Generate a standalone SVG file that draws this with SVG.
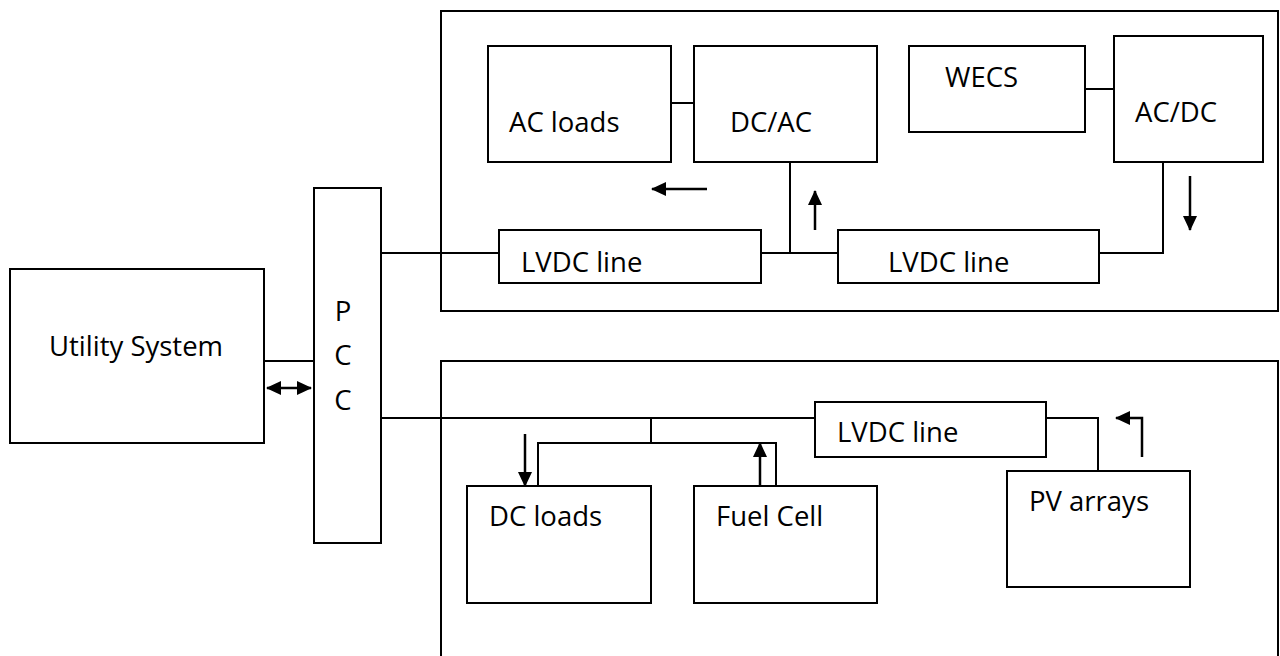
<svg xmlns="http://www.w3.org/2000/svg" width="1280" height="656" viewBox="0 0 1280 656">
<style>
.box{fill:#fff;stroke:#000;stroke-width:2}
.ln{fill:none;stroke:#000;stroke-width:2}
.ar{fill:none;stroke:#000;stroke-width:2.5}
text{font-family:"Open Sans","Noto Sans",sans-serif;font-size:27.5px;fill:#000}
</style>
<defs>
<marker id="ah" markerUnits="userSpaceOnUse" markerWidth="16" markerHeight="14" refX="14" refY="7" orient="auto-start-reverse">
<path d="M0,0 L15,7 L0,14 Z" fill="#000"/>
</marker>
</defs>
<rect width="1280" height="656" fill="#fff"/>
<g id="containers">
<rect class="box" x="441" y="11" width="837" height="300"/>
<rect class="box" x="441" y="361" width="837" height="310"/>
</g>
<g id="connectors">
<line class="ln" x1="264" y1="361" x2="314" y2="361"/>
<line class="ar" x1="267" y1="388" x2="311" y2="388" marker-start="url(#ah)" marker-end="url(#ah)"/>
<polyline class="ln" points="381,253 499,253"/>
<polyline class="ln" points="761,253 838,253"/>
<polyline class="ln" points="790,253 790,162"/>
<polyline class="ln" points="1099,253 1163,253 1163,162"/>
<line class="ln" x1="671" y1="103" x2="694" y2="103"/>
<line class="ln" x1="1085" y1="89" x2="1114" y2="89"/>
<line class="ar" x1="707" y1="189" x2="652" y2="189" marker-end="url(#ah)"/>
<line class="ar" x1="815" y1="230" x2="815" y2="191" marker-end="url(#ah)"/>
<line class="ar" x1="1190" y1="176" x2="1190" y2="230" marker-end="url(#ah)"/>
<polyline class="ln" points="381,418 815,418"/>
<polyline class="ln" points="651,418 651,443"/>
<polyline class="ln" points="538,486 538,443 776,443 776,486"/>
<line class="ar" x1="525" y1="434" x2="525" y2="486" marker-end="url(#ah)"/>
<line class="ar" x1="760" y1="486" x2="760" y2="443" marker-end="url(#ah)"/>
<polyline class="ln" points="1046,418 1098,418 1098,471"/>
<polyline class="ar" points="1142,457 1142,418 1116,418" marker-end="url(#ah)"/>
</g>
<g id="utility"><rect class="box" x="10" y="269" width="254" height="174"/><text x="49" y="356">Utility System</text></g>
<g id="pcc"><rect class="box" x="314" y="188" width="67" height="355"/>
<text x="343" y="321" text-anchor="middle">P</text>
<text x="343" y="365" text-anchor="middle">C</text>
<text x="343" y="410" text-anchor="middle">C</text></g>
<g id="ac-loads"><rect class="box" x="488" y="46" width="183" height="116"/><text x="509" y="132">AC loads</text></g>
<g id="dc-ac"><rect class="box" x="694" y="46" width="183" height="116"/><text x="730" y="132">DC/AC</text></g>
<g id="wecs"><rect class="box" x="909" y="46" width="176" height="86"/><text x="945" y="87">WECS</text></g>
<g id="ac-dc"><rect class="box" x="1114" y="36" width="149" height="126"/><text x="1135" y="122">AC/DC</text></g>
<g id="lvdc1"><rect class="box" x="499" y="230" width="262" height="53"/><text x="521" y="272">LVDC line</text></g>
<g id="lvdc2"><rect class="box" x="838" y="230" width="261" height="53"/><text x="888" y="272">LVDC line</text></g>
<g id="lvdc3"><rect class="box" x="815" y="402" width="231" height="55"/><text x="837" y="442">LVDC line</text></g>
<g id="dc-loads"><rect class="box" x="467" y="486" width="184" height="117"/><text x="489" y="526">DC loads</text></g>
<g id="fuel-cell"><rect class="box" x="694" y="486" width="183" height="117"/><text x="716" y="526">Fuel Cell</text></g>
<g id="pv-arrays"><rect class="box" x="1007" y="471" width="183" height="116"/><text x="1029" y="511">PV arrays</text></g>
</svg>
